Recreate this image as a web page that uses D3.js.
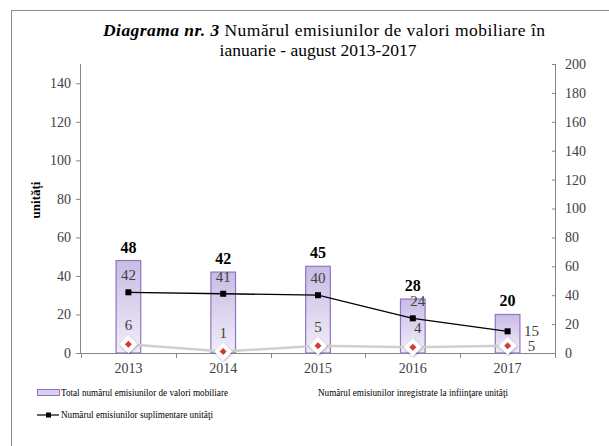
<!DOCTYPE html>
<html>
<head>
<meta charset="utf-8">
<script src="https://cdn.jsdelivr.net/npm/d3@7"></script>
<style>
  body { margin: 0; background: #fff; }
  svg, svg text { font-family: "Liberation Serif", "DejaVu Serif", serif !important; }
</style>
</head>
<body>
<div id="chart"></div>
<script>
const years = ['2013', '2014', '2015', '2016', '2017'];
const totalEmissions = [48, 42, 45, 28, 20];
const supplementary = [42, 41, 40, 24, 15];
const atFounding = [6, 1, 5, 4, 5];
const leftTicks = [0, 20, 40, 60, 80, 100, 120, 140];
const rightTicks = [0, 20, 40, 60, 80, 100, 120, 140, 160, 180, 200];

const width = 609, height = 446;
const plot = { left: 81, right: 555, top: 64, bottom: 353 };
const serif = '"Liberation Serif", "DejaVu Serif", serif';

const svg = d3.select('#chart').append('svg')
  .attr('width', width)
  .attr('height', height)
  .attr('font-family', serif);

// outer frame
svg.append('rect')
  .attr('x', 11.5).attr('y', 10.5)
  .attr('width', 620).attr('height', 460)
  .attr('fill', 'none')
  .attr('stroke', '#8c8c8c');

const defs = svg.append('defs');
const grad = defs.append('linearGradient')
  .attr('id', 'barFill')
  .attr('x1', 0).attr('y1', 0).attr('x2', 0).attr('y2', 1);
grad.append('stop').attr('offset', '0%').attr('stop-color', '#c8bce4');
grad.append('stop').attr('offset', '100%').attr('stop-color', '#f1edf9');

const shadow = defs.append('filter').attr('id', 'shadow')
  .attr('x', '-50%').attr('y', '-50%').attr('width', '200%').attr('height', '200%');
shadow.append('feDropShadow')
  .attr('dx', 0.5).attr('dy', 1).attr('stdDeviation', 1)
  .attr('flood-color', '#000').attr('flood-opacity', 0.35);

const x = d3.scaleBand()
  .domain(years)
  .range([plot.left, plot.right])
  .paddingInner(0.74)
  .paddingOuter(0.37);

const yLeft = d3.scaleLinear().domain([0, 150]).range([plot.bottom, plot.top]);
const yRight = d3.scaleLinear().domain([0, 200]).range([plot.bottom, plot.top]);
const cx = d => x(d) + x.bandwidth() / 2;

// title (first line justified like the original)
const title = svg.append('text')
  .attr('x', 103).attr('y', 36)
  .attr('font-size', 17.5)
  .attr('textLength', 442).attr('lengthAdjust', 'spacing')
  .attr('fill', '#000');
title.append('tspan').attr('font-weight', 'bold').attr('font-style', 'italic').text('Diagrama nr. 3');
title.append('tspan').text(' Numărul emisiunilor de valori mobiliare în');
svg.append('text')
  .attr('x', 318).attr('y', 56)
  .attr('text-anchor', 'middle')
  .attr('font-size', 17.5)
  .text('ianuarie - august 2013-2017');

// axes
const axisColor = '#868686';
const labelColor = '#404040';

const gLeft = svg.append('g')
  .attr('transform', `translate(${plot.left},0)`)
  .call(d3.axisLeft(yLeft).tickValues(leftTicks).tickSize(5).tickPadding(5));
const gRight = svg.append('g')
  .attr('transform', `translate(${plot.right},0)`)
  .call(d3.axisRight(yRight).tickValues(rightTicks).tickSizeInner(-3).tickSizeOuter(0).tickPadding(10));
const gBottom = svg.append('g')
  .attr('transform', `translate(0,${plot.bottom})`)
  .call(d3.axisBottom(x).tickSize(0).tickPadding(10));

[gLeft, gRight, gBottom].forEach(g => {
  g.attr('font-family', serif).attr('font-size', 14);
  g.select('.domain').attr('stroke', axisColor);
  g.selectAll('.tick line').attr('stroke', axisColor);
  g.selectAll('.tick text').attr('fill', labelColor);
});
gLeft.select('.domain').attr('d', `M-0.5,${plot.top}V${plot.bottom}`);
gRight.select('.domain').attr('d', `M0.5,${plot.top}V${plot.bottom}`);

// category boundary ticks
const bounds = years.map(d => x(d) - (x.step() - x.bandwidth()) / 2).concat([plot.right]);
svg.append('g').selectAll('line')
  .data(bounds)
  .join('line')
  .attr('x1', d => Math.round(d) + 0.5).attr('x2', d => Math.round(d) + 0.5)
  .attr('y1', plot.bottom).attr('y2', plot.bottom + 5)
  .attr('stroke', axisColor);

// y axis title
svg.append('text')
  .attr('transform', 'translate(40,200) rotate(-90)')
  .attr('text-anchor', 'middle')
  .attr('font-size', 13)
  .attr('font-weight', 'bold')
  .text('unități');

// bars
svg.append('g').selectAll('rect')
  .data(totalEmissions)
  .join('rect')
  .attr('x', (d, i) => x(years[i]))
  .attr('y', d => yLeft(d))
  .attr('width', x.bandwidth())
  .attr('height', d => plot.bottom - yLeft(d))
  .attr('fill', 'url(#barFill)')
  .attr('stroke', '#8f74c2')
  .attr('stroke-width', 1.2);

svg.append('g').selectAll('text')
  .data(totalEmissions)
  .join('text')
  .attr('x', (d, i) => cx(years[i]))
  .attr('y', d => yLeft(d) - 8)
  .attr('text-anchor', 'middle')
  .attr('font-size', 16)
  .attr('font-weight', 'bold')
  .text(d => d);

// founding series (light line, diamonds)
const line = d3.line()
  .x((d, i) => cx(years[i]))
  .y(d => yRight(d));

svg.append('path')
  .datum(atFounding)
  .attr('d', line)
  .attr('fill', 'none')
  .attr('stroke', '#cfcfcf')
  .attr('stroke-width', 2.5);

const diamonds = svg.append('g').selectAll('g')
  .data(atFounding)
  .join('g')
  .attr('transform', (d, i) => `translate(${cx(years[i])},${yRight(d)})`);
diamonds.append('path')
  .attr('d', 'M0,-9L9,0L0,9L-9,0Z')
  .attr('fill', '#fff')
  .attr('filter', 'url(#shadow)');
diamonds.append('path')
  .attr('d', 'M0,-3.5L3.5,0L0,3.5L-3.5,0Z')
  .attr('fill', '#d33b33');

// supplementary series (black line, squares)
svg.append('path')
  .datum(supplementary)
  .attr('d', line)
  .attr('fill', 'none')
  .attr('stroke', '#000')
  .attr('stroke-width', 1.3);

svg.append('g').selectAll('rect')
  .data(supplementary)
  .join('rect')
  .attr('x', (d, i) => cx(years[i]) - 3)
  .attr('y', d => yRight(d) - 3)
  .attr('width', 6).attr('height', 6)
  .attr('fill', '#000');

// data labels for lines
const last = years.length - 1;
function lineLabels(values, dy) {
  svg.append('g').selectAll('text')
    .data(values)
    .join('text')
    .attr('x', (d, i) => i === last ? cx(years[i]) + 24 : cx(years[i]) + (i === 3 ? 5 : 0))
    .attr('y', (d, i) => i === last ? yRight(d) + 5 : yRight(d) - dy)
    .attr('text-anchor', 'middle')
    .attr('font-size', 15)
    .attr('fill', labelColor)
    .text(d => d);
}
lineLabels(supplementary, 12);
lineLabels(atFounding, 14);

// legend
const legend = svg.append('g').attr('font-size', 10);
legend.append('rect')
  .attr('x', 37.5).attr('y', 389.5)
  .attr('width', 22).attr('height', 6)
  .attr('fill', '#d9d0ee')
  .attr('stroke', '#8f74c2');
legend.append('text')
  .attr('x', 61).attr('y', 396)
  .attr('textLength', 167).attr('lengthAdjust', 'spacingAndGlyphs')
  .text('Total numărul emisiunilor de valori mobiliare');
legend.append('text')
  .attr('x', 318).attr('y', 396)
  .attr('textLength', 190).attr('lengthAdjust', 'spacingAndGlyphs')
  .text('Numărul emisiunilor inregistrate la infiinţare unităţi');
legend.append('line')
  .attr('x1', 37).attr('x2', 59).attr('y1', 415).attr('y2', 415)
  .attr('stroke', '#000').attr('stroke-width', 1.2);
legend.append('rect')
  .attr('x', 46).attr('y', 412.5).attr('width', 5).attr('height', 5)
  .attr('fill', '#000');
legend.append('text')
  .attr('x', 61).attr('y', 418)
  .attr('textLength', 152).attr('lengthAdjust', 'spacingAndGlyphs')
  .text('Numărul emisiunilor suplimentare unităţi');
</script>
</body>
</html>
